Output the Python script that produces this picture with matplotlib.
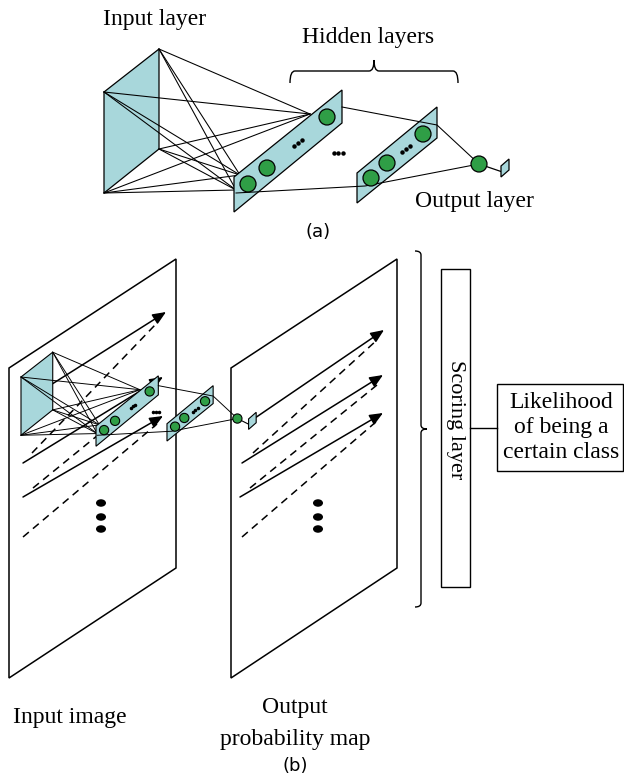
import matplotlib
matplotlib.use("Agg")
import matplotlib.pyplot as plt
from matplotlib.patches import Polygon, Circle, Ellipse, Rectangle, PathPatch
from matplotlib.path import Path

FILL = "#a8d7db"
NODE = "#2f9e46"
SERIF = "Liberation Serif"
SANS = "DejaVu Sans"

# ---- network geometry (panel a, pixel units) ----
input_face = [(104, 92), (159, 49), (159, 149), (104, 193)]
fan_targets = [(310, 114), (240, 175), (236, 190)]
hidden1 = [(234, 177), (342, 90), (342, 123), (234, 212)]
hidden1_nodes = [(248, 184), (267, 168), (327, 117)]
hidden1_dots = (298, 143)
hidden2 = [(357, 173), (437, 107), (437, 138), (357, 203)]
hidden2_nodes = [(371, 178), (387, 163), (423, 134)]
hidden2_dots = (406, 149)
gap_dots = (338, 153)
output_node = (479, 164)
output_face_center = (505, 168)
output_face_shape = [(-4, -2), (4, -9), (4, 2), (-4, 9)]
upper_path = [(342, 107), (437, 125), (479, 164)]
lower_path = [(236, 193), (365, 186), (479, 164)]
node_radius = 8

# ---- panel (b) ----
small_origin = (21, 377)
small_scale = 0.577
small_face_scale = 0.95
input_panel = [(9, 368), (176, 259), (176, 568), (9, 678)]
output_panel = [(231, 368), (397, 259), (397, 568), (231, 678)]

in_solid_start = [(30, 398), (23, 463), (23, 497)]
in_solid_tip = [(166, 312), (163, 377), (163, 416)]
in_dash_start = [(32, 453), (33, 488), (23, 537)]
in_dash_end = [(155, 325), (157, 387), (157, 424)]

out_solid_start = [(255, 418), (242, 463), (240, 497)]
out_solid_tip = [(384, 330), (383, 375), (383, 413)]
out_dash_start = [(253, 453), (250, 488), (242, 537)]
out_dash_end = [(377, 340), (377, 385), (377, 421)]

vdots_y = [503, 517, 529]
in_vdots_x = 101
out_vdots_x = 318

scoring_box = (441, 269, 470, 587)
likelihood_box = (497, 384, 623, 471)
likelihood_lines = ["Likelihood", "of being a", "certain class"]

fig = plt.figure(figsize=(6.24, 7.8), dpi=100)
ax = fig.add_axes([0, 0, 1, 1])
ax.set_xlim(0, 624)
ax.set_ylim(780, 0)
ax.axis("off")


def brace_h(x0, x1, y, d_end, d_tip, r=5, lw=1.0):
    xm = (x0 + x1) / 2
    verts = [(x0, y + d_end), (x0, y), (x0 + r, y), (xm - r, y), (xm, y), (xm, y - d_tip),
             (xm, y), (xm + r, y), (x1 - r, y), (x1, y), (x1, y + d_end)]
    codes = [Path.MOVETO, Path.CURVE3, Path.CURVE3, Path.LINETO, Path.CURVE3, Path.CURVE3,
             Path.CURVE3, Path.CURVE3, Path.LINETO, Path.CURVE3, Path.CURVE3]
    ax.add_patch(PathPatch(Path(verts, codes), fill=False, lw=lw, ec="k"))


def brace_v(x, y0, y1, d_end, d_tip, r=4, lw=1.0):
    ym = (y0 + y1) / 2
    verts = [(x - d_end, y0), (x, y0), (x, y0 + r), (x, ym - r), (x, ym), (x + d_tip, ym),
             (x, ym), (x, ym + r), (x, y1 - r), (x, y1), (x - d_end, y1)]
    codes = [Path.MOVETO, Path.CURVE3, Path.CURVE3, Path.LINETO, Path.CURVE3, Path.CURVE3,
             Path.CURVE3, Path.CURVE3, Path.LINETO, Path.CURVE3, Path.CURVE3]
    ax.add_patch(PathPatch(Path(verts, codes), fill=False, lw=lw, ec="k"))


def draw_network(origin, scale, face_scale, lw=0.8, z=5):
    ax0, ay0 = input_face[0]

    def T(p):
        return (origin[0] + scale * (p[0] - ax0), origin[1] + scale * (p[1] - ay0))

    def TL(pts):
        return [T(p) for p in pts]

    dot_ms = 2.2 * max(scale, 0.7)
    ax.add_patch(Polygon(TL(input_face), closed=True, fc=FILL, ec="k", lw=lw, zorder=z))
    for v in input_face:
        for t in fan_targets:
            a, b = T(v), T(t)
            ax.plot([a[0], b[0]], [a[1], b[1]], color="k", lw=lw * 0.85, zorder=z + 1)
    for layer, nodes, dots in [(hidden1, hidden1_nodes, hidden1_dots),
                               (hidden2, hidden2_nodes, hidden2_dots)]:
        ax.add_patch(Polygon(TL(layer), closed=True, fc=FILL, ec="k", lw=lw, zorder=z + 2))
        for n in nodes:
            ax.add_patch(Circle(T(n), node_radius * scale, fc=NODE, ec="k", lw=lw, zorder=z + 4))
        for k in (-1, 0, 1):
            c = T((dots[0] + 4 * k, dots[1] - 3.3 * k))
            ax.plot(*c, "o", ms=dot_ms, color="k", zorder=z + 4)
    for k in (-1, 0, 1):
        c = T((gap_dots[0] + 4.5 * k, gap_dots[1]))
        ax.plot(*c, "o", ms=dot_ms, color="k", zorder=z + 4)
    for path in (upper_path, lower_path):
        pts = TL(path)
        ax.plot([p[0] for p in pts], [p[1] for p in pts], color="k", lw=lw * 0.85, zorder=z + 3)
    # output node and the output face it feeds
    node = T(output_node)
    fc = T(output_face_center)
    face = [(fc[0] + face_scale * dx, fc[1] + face_scale * dy) for dx, dy in output_face_shape]
    left_mid = ((face[0][0] + face[3][0]) / 2, (face[0][1] + face[3][1]) / 2)
    ax.plot([node[0], left_mid[0]], [node[1], left_mid[1]], color="k", lw=lw, zorder=z + 3)
    ax.add_patch(Circle(node, node_radius * scale, fc=NODE, ec="k", lw=lw, zorder=z + 4))
    ax.add_patch(Polygon(face, closed=True, fc=FILL, ec="k", lw=lw, zorder=z + 4))


def draw_scan(starts, tips, dstarts, dends):
    for s, t in zip(starts, tips):
        ax.annotate("", xy=t, xytext=s,
                    arrowprops=dict(arrowstyle="-|>,head_length=0.4,head_width=0.17",
                                    color="k", lw=1.1, mutation_scale=20,
                                    shrinkA=0, shrinkB=0), zorder=3)
    for s, e in zip(dstarts, dends):
        ax.plot([s[0], e[0]], [s[1], e[1]], color="k", lw=1.1, dashes=(5, 3.5), zorder=3)


# ---- panel (a) ----
draw_network((input_face[0][0], input_face[0][1]), 1.0, 1.0, lw=0.9)
brace_h(290, 458, 71, 12, 11)
ax.text(155, 20, "Input layer", family=SERIF, fontsize=17, ha="center", va="center")
ax.text(368, 38, "Hidden layers", family=SERIF, fontsize=17, ha="center", va="center")
ax.text(474, 202, "Output layer", family=SERIF, fontsize=17, ha="center", va="center")
ax.text(318, 232, "(a)", family=SANS, fontsize=13, ha="center", va="center")

# ---- panel (b) ----
for panel in (input_panel, output_panel):
    ax.add_patch(Polygon(panel, closed=True, fill=False, ec="k", lw=1.1, zorder=2))
draw_scan(in_solid_start, in_solid_tip, in_dash_start, in_dash_end)
draw_scan(out_solid_start, out_solid_tip, out_dash_start, out_dash_end)
for xv in (in_vdots_x, out_vdots_x):
    for yv in vdots_y:
        ax.add_patch(Ellipse((xv, yv), 10, 7.5, fc="k", ec="none", zorder=3))

draw_network(small_origin, small_scale, small_face_scale, lw=0.8, z=10)

brace_v(421, 251, 607, 6, 6)
x0, y0, x1, y1 = scoring_box
ax.add_patch(Rectangle((x0, y0), x1 - x0, y1 - y0, fill=False, ec="k", lw=1.0))
ax.text((x0 + x1) / 2, 420, "Scoring layer", family=SERIF, fontsize=16, rotation=-90,
        ha="center", va="center")
lx0, ly0, lx1, ly1 = likelihood_box
ax.plot([x1, lx0], [428, 428], color="k", lw=1.0)
ax.add_patch(Rectangle((lx0, ly0), lx1 - lx0, ly1 - ly0, fill=False, ec="k", lw=1.0))
for i, line in enumerate(likelihood_lines):
    ax.text((lx0 + lx1) / 2 + 1, 402 + 25 * i, line, family=SERIF, fontsize=17,
            ha="center", va="center")

ax.text(70, 717, "Input image", family=SERIF, fontsize=17, ha="center", va="center")
ax.text(295, 708, "Output", family=SERIF, fontsize=17, ha="center", va="center")
ax.text(295, 740, "probability map", family=SERIF, fontsize=17, ha="center", va="center")
ax.text(295, 766, "(b)", family=SANS, fontsize=13, ha="center", va="center")

fig.savefig("out.png", dpi=100)
